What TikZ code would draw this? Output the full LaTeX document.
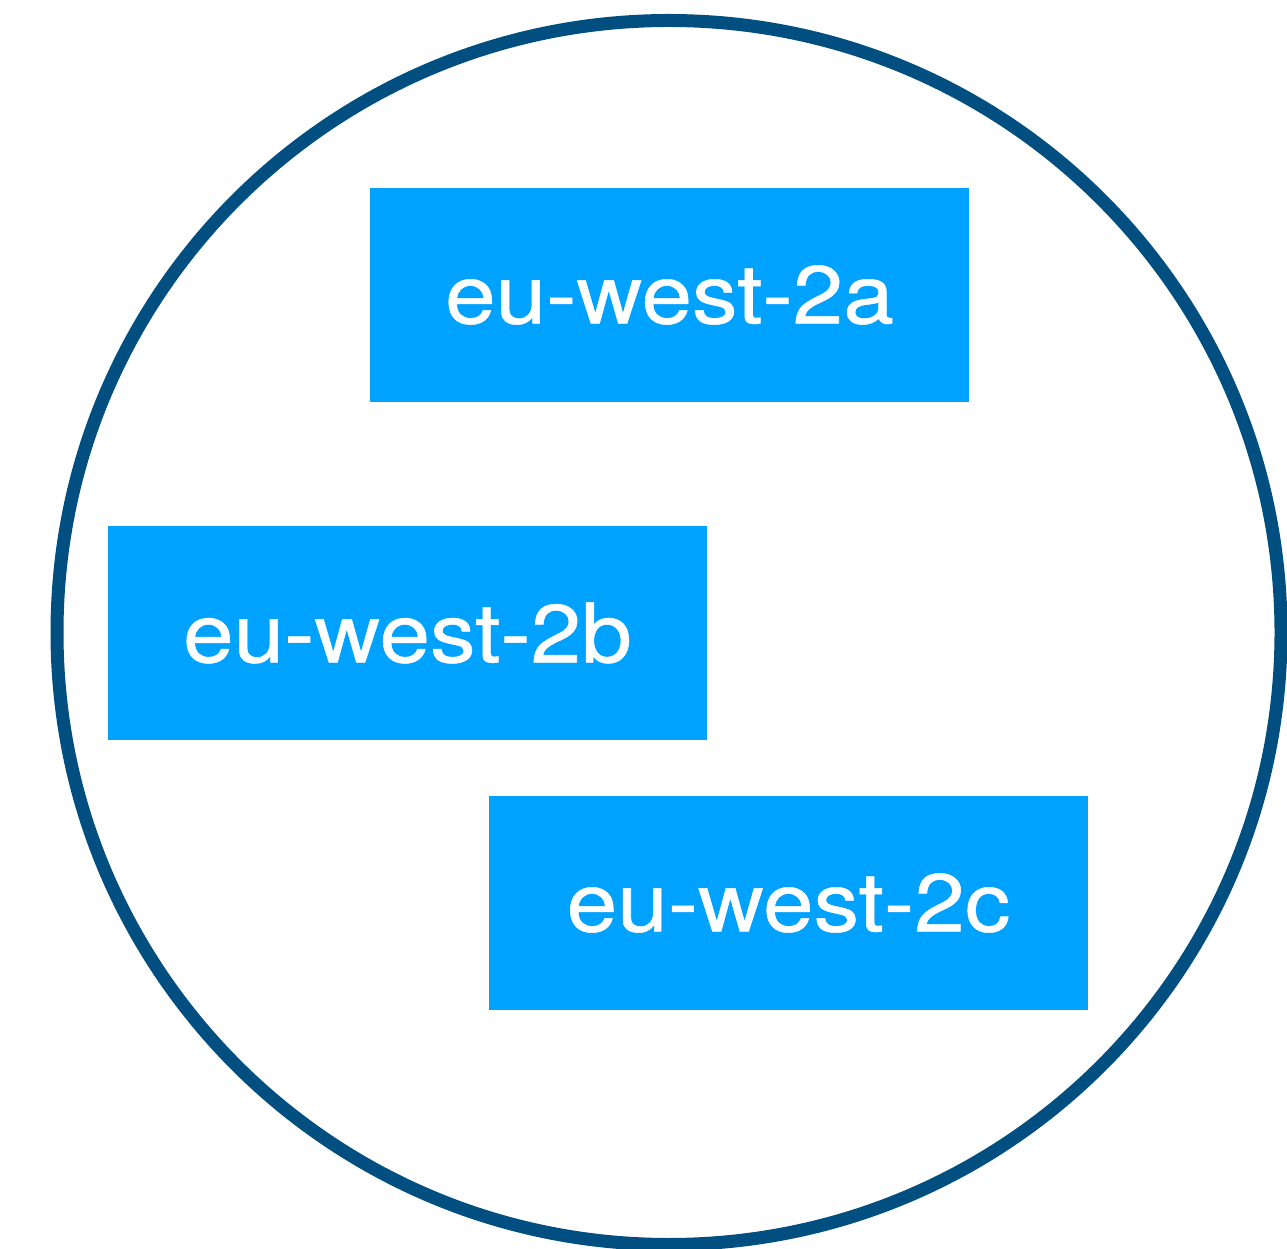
\documentclass[tikz,border=0pt]{standalone}
\usepackage{fontspec}
\setmainfont{TeX Gyre Heros}[FakeBold=0.6]
\definecolor{zoneblue}{RGB}{0,162,255}
\definecolor{ringblue}{RGB}{0,79,128}
\begin{document}
\begin{tikzpicture}[x=1pt,y=1pt,
  zone/.style={fill=zoneblue,draw=none,minimum width=599pt,minimum height=214pt,inner sep=0pt,
    text=white,font=\fontsize{82}{90}\selectfont},
  ring/.style={draw=ringblue,line width=13pt,circle,minimum size=1224pt,inner sep=0pt}]
\useasboundingbox (0,0) rectangle (1287,1248);
\clip (0,0) rectangle (1287,1248);
\node[ring] (region) at (669,615.5) {};
\node[zone] (za) at (669.5,953) {\raisebox{-3pt}{\scalebox{1.11}[1]{eu-west-2a}}};
\node[zone] (zb) at (407.5,615) {\raisebox{-3pt}{\scalebox{1.11}[1]{eu-west-2b}}};
\node[zone] (zc) at (788.5,345) {\raisebox{-3pt}{\scalebox{1.11}[1]{eu-west-2c}}};
\end{tikzpicture}
\end{document}
